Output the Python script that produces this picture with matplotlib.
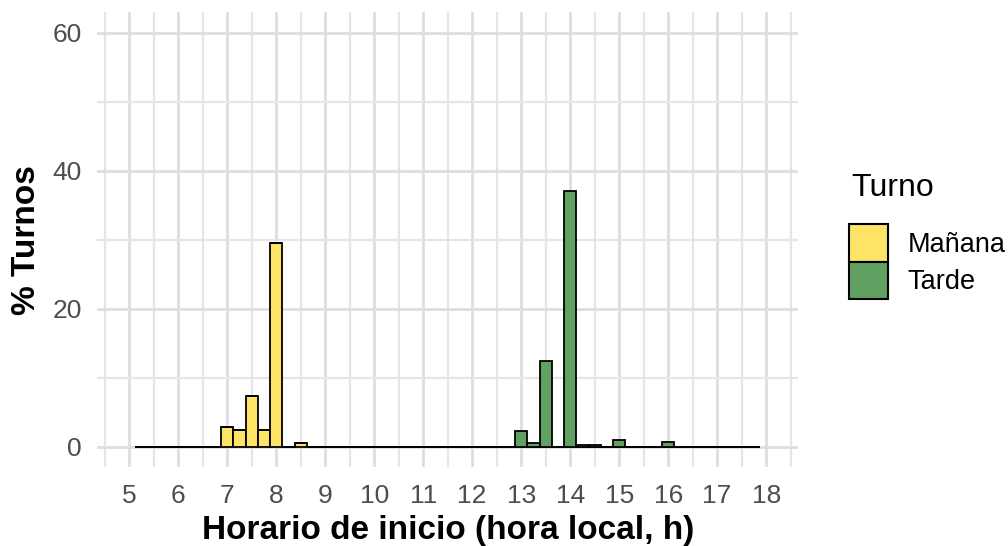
import numpy as np
import matplotlib
matplotlib.use("Agg")
import matplotlib.pyplot as plt
from matplotlib.patches import Patch

plt.rcParams['font.family'] = ['Liberation Sans', 'DejaVu Sans']

# bins de 15 min (centros)
centros = np.arange(5.25, 17.75 + 0.01, 0.25)
ancho = 0.25

manana_horas = [7.0, 7.25, 7.5, 7.75, 8.0, 8.5]
manana_pct = [2.86, 2.5, 7.35, 2.5, 29.6, 0.6]

tarde_horas = [13.0, 13.25, 13.5, 14.0, 14.25, 14.5, 15.0, 16.0]
tarde_pct = [2.24, 0.55, 12.4, 37.1, 0.25, 0.25, 1.04, 0.65]

x_ticks = list(range(5, 19))
y_ticks = [0, 20, 40, 60]

color_manana = "#FDE366"
color_tarde = "#60A060"


def serie_completa(horas, pct):
    # pone cada valor en su bin, el resto queda en cero
    valores = np.zeros(len(centros))
    for h, p in zip(horas, pct):
        valores[int(round((h - centros[0]) / ancho))] = p
    return valores


manana = serie_completa(manana_horas, manana_pct)
tarde = serie_completa(tarde_horas, tarde_pct)

fig = plt.figure(figsize=(10.08, 5.46), dpi=100)
ax = fig.add_axes([0.0965, 0.1438, 0.6952, 0.8337])

ax.bar(centros, manana, width=ancho, color=color_manana, edgecolor="black", linewidth=1.3, zorder=3)
ax.bar(centros, tarde, width=ancho, bottom=manana, color=color_tarde, edgecolor="black", linewidth=1.3, zorder=3)

ax.set_xlim(4.35, 18.65)
ax.set_ylim(-3, 63)
ax.set_xticks(x_ticks)
ax.set_xticks(np.arange(4.5, 18.6, 1.0), minor=True)
ax.set_yticks(y_ticks)
ax.set_yticks([10, 30, 50], minor=True)

ax.grid(which="major", color="#dedede", linewidth=2.0, zorder=0)
ax.grid(which="minor", color="#e6e6e6", linewidth=1.6, zorder=0)
ax.set_axisbelow(True)

for s in ax.spines.values():
    s.set_visible(False)
ax.tick_params(which="both", length=0)
ax.tick_params(axis="x", labelsize=19, colors="#4d4d4d", pad=12)
ax.tick_params(axis="y", labelsize=19, colors="#4d4d4d", pad=11)

ax.set_xlabel("Horario de inicio (hora local, h)", fontsize=24, fontweight="bold", labelpad=5)
ax.set_ylabel("% Turnos", fontsize=24, fontweight="bold", labelpad=8)

# leyenda: titulo aparte para controlar el espacio
fig.text(851 / 1008, 1 - 188 / 546, "Turno", fontsize=23, ha="left", va="center")
handles = [Patch(facecolor=color_manana, edgecolor="black", linewidth=1.5, label="Mañana"),
           Patch(facecolor=color_tarde, edgecolor="black", linewidth=1.5, label="Tarde")]
leg = fig.legend(handles=handles, loc="upper left", bbox_to_anchor=(0.842, 0.589),
                 fontsize=19.5, frameon=False, handlelength=1.44, handleheight=1.74,
                 labelspacing=0.0, handletextpad=0.74, borderpad=0, borderaxespad=0)

fig.savefig("out.png", dpi=100)
